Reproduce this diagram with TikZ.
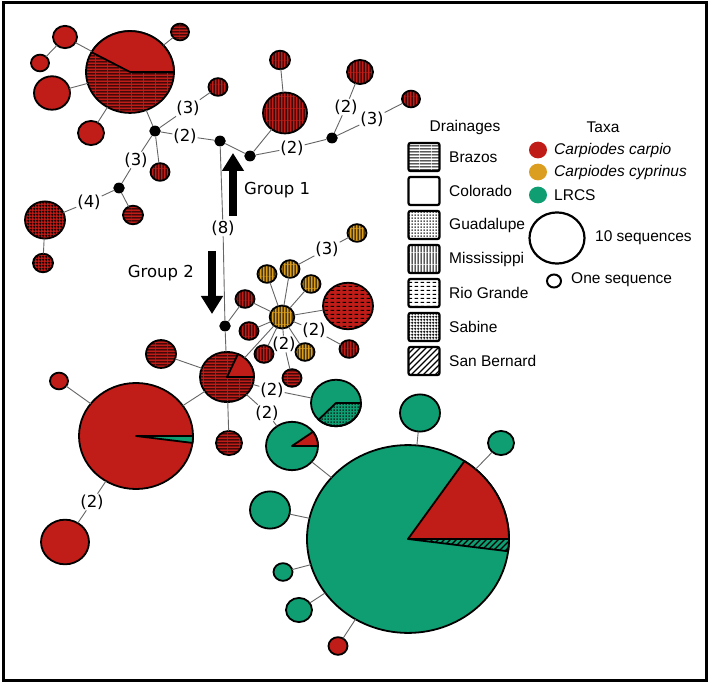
\documentclass[tikz,border=0pt]{standalone}
\usepackage{fontspec}
\setmainfont{Liberation Sans}
\newfontfamily\dvs{DejaVu Sans}
\usetikzlibrary{shapes.geometric,patterns,arrows.meta}
\definecolor{cred}{RGB}{192,28,24}
\definecolor{corange}{RGB}{220,158,32}
\definecolor{cgreen}{RGB}{14,158,114}
\pgfdeclarepatternformonly{brz}{\pgfqpoint{0pt}{0pt}}{\pgfqpoint{12pt}{3pt}}{\pgfqpoint{12pt}{3pt}}{%
 \pgfsetlinewidth{1.2pt}\pgfpathmoveto{\pgfqpoint{0pt}{1.5pt}}\pgfpathlineto{\pgfqpoint{12pt}{1.5pt}}\pgfusepath{stroke}}
\pgfdeclarepatternformonly{mis}{\pgfqpoint{0pt}{0pt}}{\pgfqpoint{3pt}{12pt}}{\pgfqpoint{3pt}{12pt}}{%
 \pgfsetlinewidth{1.2pt}\pgfpathmoveto{\pgfqpoint{1.5pt}{0pt}}\pgfpathlineto{\pgfqpoint{1.5pt}{12pt}}\pgfusepath{stroke}}
\pgfdeclarepatternformonly{sab}{\pgfqpoint{0pt}{0pt}}{\pgfqpoint{3pt}{3pt}}{\pgfqpoint{3pt}{3pt}}{%
 \pgfsetlinewidth{1pt}\pgfpathmoveto{\pgfqpoint{1.5pt}{0pt}}\pgfpathlineto{\pgfqpoint{1.5pt}{3pt}}%
 \pgfpathmoveto{\pgfqpoint{0pt}{1.5pt}}\pgfpathlineto{\pgfqpoint{3pt}{1.5pt}}\pgfusepath{stroke}}
\pgfdeclarepatternformonly{gdl}{\pgfqpoint{0pt}{0pt}}{\pgfqpoint{3pt}{3pt}}{\pgfqpoint{3pt}{3pt}}{%
 \pgfsetlinewidth{1.1pt}\pgfpathmoveto{\pgfqpoint{1.5pt}{0.3pt}}\pgfpathlineto{\pgfqpoint{1.5pt}{2.2pt}}\pgfusepath{stroke}}
\pgfdeclarepatternformonly{rio}{\pgfqpoint{0pt}{0pt}}{\pgfqpoint{6pt}{4pt}}{\pgfqpoint{6pt}{4pt}}{%
 \pgfsetlinewidth{1.2pt}\pgfpathmoveto{\pgfqpoint{0.8pt}{2pt}}\pgfpathlineto{\pgfqpoint{4.8pt}{2pt}}\pgfusepath{stroke}}
\pgfdeclarepatternformonly{sbr}{\pgfqpoint{-1pt}{-1pt}}{\pgfqpoint{7pt}{7pt}}{\pgfqpoint{6pt}{6pt}}{%
 \pgfsetlinewidth{1.1pt}\pgfpathmoveto{\pgfqpoint{0pt}{0pt}}\pgfpathlineto{\pgfqpoint{6.1pt}{6.1pt}}\pgfusepath{stroke}}
\newcommand\hapsec[5]{\pgfmathsetmacro\hsrx{#2}\pgfmathsetmacro\hsry{0.93*#2}%
 \path[draw=black, line width=1.8pt, line join=round, #5] (#1.center) -- ++(#3:\hsrx pt and \hsry pt)
   arc[start angle=#3, end angle=#4, x radius=\hsrx pt, y radius=\hsry pt] -- cycle;}
\begin{document}
\begin{tikzpicture}[x=1pt,y=-1pt,
  hap/.style={ellipse, draw=black, line width=1.8pt, inner sep=0pt, outer sep=0pt,
     minimum width={2*#1*1pt}, minimum height={1.86*#1*1pt}},
  dot/.style={ellipse, fill=black, inner sep=0pt, minimum width=11.5pt, minimum height=10.7pt},
  lab/.style={inner sep=0.8pt, font=\dvs\fontsize{16.5}{18}\selectfont},
  grp/.style={font=\dvs\fontsize{16.5}{18}\selectfont, inner sep=0pt},
  link/.style={draw=black!60, line width=0.9pt},
  rd/.style={fill=cred}, gn/.style={fill=cgreen},
  rp/.style={preaction={fill=cred}, pattern=#1, pattern color=black},
  op/.style={preaction={fill=corange}, pattern=#1, pattern color=black},
  sq/.style={draw=black, line width=2.2pt, rounded corners=2pt, minimum width=31pt, minimum height=28pt, inner sep=0pt},
  leg/.style={font=\fontsize{15.5}{18}\selectfont, inner sep=0pt, anchor=west},
  bigarrow/.style={line width=8pt, -{Triangle[width=21pt,length=18pt]}}]
\useasboundingbox (0,0) rectangle (709,684);
\fill[white] (0,0) rectangle (709,684);
\draw[line width=3pt] (3,3) rectangle (706,680);
% ---- top group
\node[hap=44, rp=brz] (A) at (130,72) {};
\node[hap=12, rd] (A1) at (65,37) {};
\node[hap=9, rd] (A2) at (40,63) {};
\node[hap=18, rd] (A3) at (52,93) {};
\node[hap=13, rd] (A4) at (91,133) {};
\node[hap=9, rp=brz] (A5) at (180,32) {};
\node[dot] (n1) at (155,131) {};
\node[hap=9.5, rp=mis] (B1) at (218,87) {};
\node[hap=9.5, rp=mis] (B2) at (160,172) {};
\node[dot] (n3) at (119,188) {};
\node[hap=20, rp=sab] (S1) at (45,220) {};
\node[hap=10, rp=sab] (S2) at (43,263) {};
\node[hap=10, rp=brz] (B3) at (133,215) {};
\node[dot] (n2) at (220,141) {};
\node[dot] (n4) at (250,156) {};
\node[hap=22, rp=mis] (M1) at (285,113) {};
\node[hap=10, rp=mis] (M2) at (280,60) {};
\node[dot] (n5) at (332,138) {};
\node[hap=13, rp=mis] (M3) at (360,72) {};
\node[hap=9, rp=mis] (M4) at (411,99) {};
\node[dot] (n6) at (225,326) {};
% ---- middle group
\node[hap=27, rp=brz] (P) at (227,377) {};
\node[hap=9.5, rp=mis] (R1) at (245,299) {};
\node[hap=12.3, op=mis] (H) at (282,317) {};
\node[hap=9.5, op=mis] (O1) at (267,274) {};
\node[hap=9.5, op=mis] (O2) at (290,269) {};
\node[hap=9.5, op=mis] (O3) at (311,284) {};
\node[hap=9.5, op=mis] (O4) at (305,352) {};
\node[hap=9.5, op=mis] (O5) at (357,233) {};
\node[hap=9.5, rp=mis] (R2) at (249,331) {};
\node[hap=9.5, rp=mis] (R3) at (264,354) {};
\node[hap=9.5, rp=brz] (R4) at (292,378) {};
\node[hap=9.5, rp=mis] (R5) at (349,349) {};
\node[hap=25, rp=rio] (RG) at (348,306) {};
\node[hap=15, rp=brz] (L1) at (161,354) {};
\node[hap=57, rd] (BR) at (136,436) {};
\node[hap=13, rp=brz] (L2) at (229,443) {};
\node[hap=25, gn] (G1) at (336,403) {};
\node[hap=26, gn] (G2) at (292,446) {};
\node[hap=9, rd] (L3) at (59,381) {};
\node[hap=24, rd] (L4) at (65,542) {};
% ---- big green group
\node[hap=101, gn] (GG) at (408,539) {};
\node[hap=20, gn] (T1) at (420,413) {};
\node[hap=13, gn] (T2) at (501,443) {};
\node[hap=20, gn] (T3) at (270,510) {};
\node[hap=9.5, gn] (T4) at (283,572) {};
\node[hap=13, gn] (T5) at (299,610) {};
\node[hap=9.5, rd] (T6) at (338,646) {};
% ---- pie sectors
\hapsec{A}{44}{0}{151}{fill=cred}
\hapsec{P}{27}{0}{66}{fill=cred}
\hapsec{G1}{25}{226}{360}{pattern=gdl, pattern color=black}
\hapsec{G2}{26}{0}{36}{fill=cred}
\hapsec{BR}{57}{-7.5}{0}{fill=cgreen}
\hapsec{GG}{101}{0}{56}{fill=cred}
\hapsec{GG}{101}{-7.5}{0}{pattern=sbr, pattern color=black}
% ---- mutation labels
\node[lab] (la) at (188,108) {(3)};
\node[lab] (lb) at (185,136) {(2)};
\node[lab] (lc) at (136,160) {(3)};
\node[lab] (ld) at (89,202) {(4)};
\node[lab] (l8) at (223,228) {(8)};
\node[lab] (le) at (292,148) {(2)};
\node[lab] (lf) at (346,107) {(2)};
\node[lab] (lg) at (372,119) {(3)};
\node[lab] (lh) at (327,249) {(3)};
\node[lab] (li) at (314,330) {(2)};
\node[lab] (lj) at (284,344) {(2)};
\node[lab] (lk) at (272,390) {(2)};
\node[lab] (ll) at (267,413) {(2)};
\node[lab] (lm) at (92,502) {(2)};
% ---- connectors
\draw[link] (A)--(A1) (A1)--(A2) (A)--(A3) (A)--(A4) (A)--(A5) (A)--(n1);
\draw[link] (n1)--(la)--(B1) (n1)--(lb)--(n2) (n1)--(B2) (n1)--(lc)--(n3)
  (n3)--(ld)--(S1) (S1)--(S2) (n3)--(B3);
\draw[link] (n2)--(n4) (n4)--(M1) (M1)--(M2) (n4)--(le)--(n5) (n5)--(lf)--(M3) (n5)--(lg)--(M4);
\draw[link] (n2)--(l8)--(n6);
\draw[link] (n6)--(P) (n6)--(R1) (R1)--(H) (H)--(O1) (H)--(O2) (H)--(O3) (H)--(O4)
  (O2)--(lh)--(O5) (H)--(R2) (H)--(R3) (H)--(lj)--(R4) (H)--(li)--(R5) (H)--(RG) (H)--(P);
\draw[link] (P)--(L1) (P)--(BR) (P)--(L2) (P)--(lk)--(G1) (P)--(ll)--(G2) (BR)--(L3) (BR)--(lm)--(L4);
\draw[link] (G2)--(GG) (GG)--(T1) (GG)--(T2) (GG)--(T3) (GG)--(T4) (GG)--(T5) (GG)--(T6);
% ---- group arrows
\coordinate (g1a) at (233,216);
\coordinate (g1b) at (233,153);
\coordinate (g2a) at (212,251);
\coordinate (g2b) at (212,314);
\draw[bigarrow] (g1a) -- (g1b);
\draw[bigarrow] (g2a) -- (g2b);
\node[grp, anchor=west] (tg1) at (244,190) {Group 1};
\node[grp, anchor=east] (tg2) at (194,273) {Group 2};
% ---- legend
\node[font=\fontsize{15.5}{18}\selectfont, inner sep=0pt] (hd) at (465,127) {Drainages};
\node[font=\fontsize{15.5}{18}\selectfont, inner sep=0pt] (ht) at (603,127) {Taxa};
\node[sq, preaction={fill=white}, pattern=brz, pattern color=black] (q1) at (424,157) {};
\node[sq, fill=white] (q2) at (424,191) {};
\node[sq, preaction={fill=white}, pattern=gdl, pattern color=black] (q3) at (424,225) {};
\node[sq, preaction={fill=white}, pattern=mis, pattern color=black] (q4) at (424,259) {};
\node[sq, preaction={fill=white}, pattern=rio, pattern color=black] (q5) at (424,293) {};
\node[sq, preaction={fill=white}, pattern=sab, pattern color=black] (q6) at (424,327) {};
\node[sq, preaction={fill=white}, pattern=sbr, pattern color=black] (q7) at (424,361) {};
\node[leg] (t1) at (449,157) {Brazos};
\node[leg] (t2) at (449,191) {Colorado};
\node[leg] (t3) at (449,225) {Guadalupe};
\node[leg] (t4) at (449,259) {Mississippi};
\node[leg] (t5) at (449,293) {Rio Grande};
\node[leg] (t6) at (449,327) {Sabine};
\node[leg] (t7) at (449,361) {San Bernard};
\node[ellipse, inner sep=0pt, minimum width=18pt, minimum height=16.7pt, fill=cred] (c1) at (538,150) {};
\node[ellipse, inner sep=0pt, minimum width=18pt, minimum height=16.7pt, fill=corange] (c2) at (538,172) {};
\node[ellipse, inner sep=0pt, minimum width=18pt, minimum height=16.7pt, fill=cgreen] (c3) at (538,195) {};
\node[leg] (u1) at (554,150) {\itshape Carpiodes carpio};
\node[leg] (u2) at (554,172) {\itshape Carpiodes cyprinus};
\node[leg] (u3) at (554,195) {LRCS};
\node[hap=27.5, fill=white, line width=2.2pt] (c10) at (557,238) {};
\node[hap=7, fill=white, line width=2pt] (c01) at (554,281) {};
\node[leg] (u4) at (595,238) {10 sequences};
\node[leg] (u5) at (571,280) {One sequence};
\end{tikzpicture}
\end{document}
